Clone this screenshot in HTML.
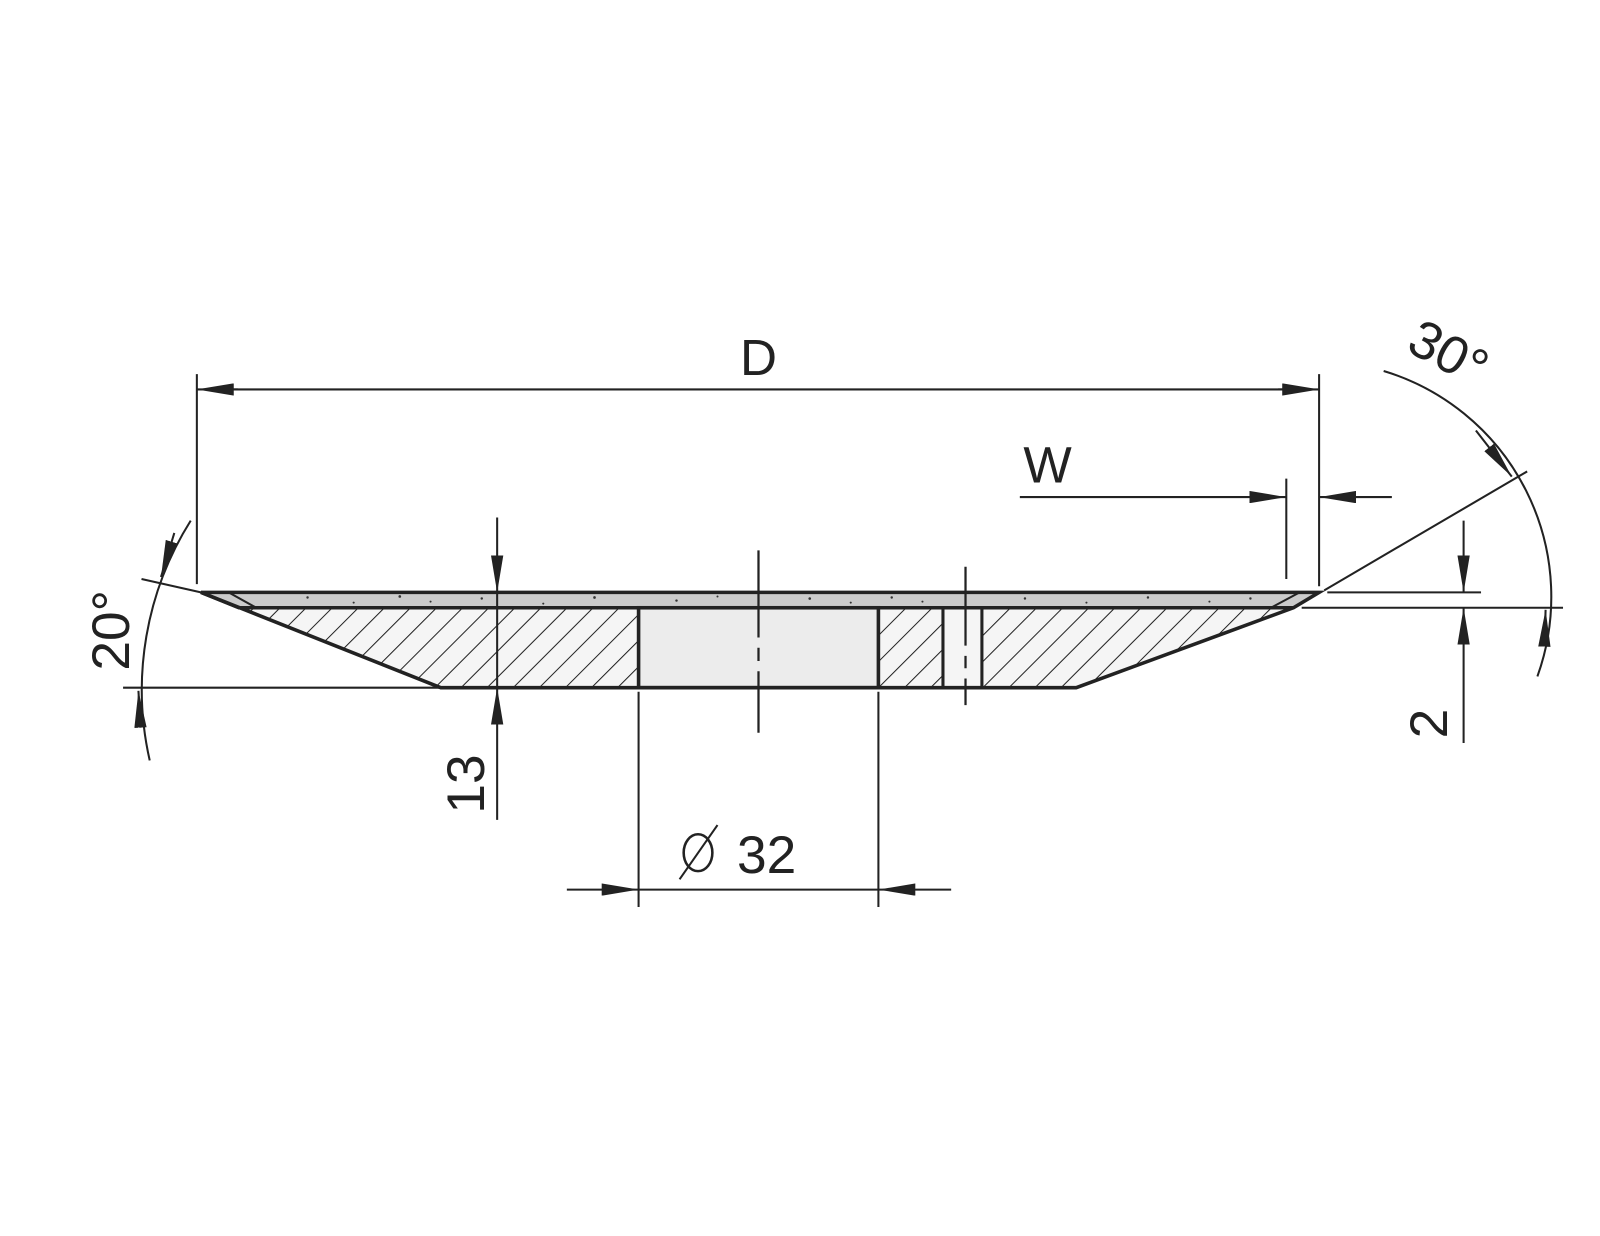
<!DOCTYPE html>
<html><head><meta charset="utf-8"><style>
html,body{margin:0;padding:0;background:#fff;}
svg{display:block;}
text{font-family:"Liberation Sans",sans-serif;fill:#222;}
</style></head><body>
<svg width="1600" height="1236" viewBox="0 0 1561 1206" xmlns="http://www.w3.org/2000/svg">
<defs>
<pattern id="h" patternUnits="userSpaceOnUse" width="18" height="18" patternTransform="rotate(45)">
<rect width="18" height="18" fill="#f5f5f5"/>
<line x1="0" y1="0" x2="0" y2="18" stroke="#222" stroke-width="2"/>
</pattern>
<marker id="a" viewBox="0 0 36 12" refX="36" refY="6" markerWidth="36" markerHeight="12" markerUnits="userSpaceOnUse" orient="auto">
<path d="M0,0 L36,6 L0,12 Z" fill="#222"/>
</marker>
</defs>
<g stroke="#222" fill="none">
<path d="M233,593 L623,593 L623,671 L430,671 Z" fill="url(#h)" stroke="none"/>
<path d="M857,593 L1258,593 L1050,671 L857,671 Z" fill="url(#h)" stroke="none"/>
<rect x="920" y="593" width="38" height="78" fill="#f5f5f5" stroke="none"/>
<line x1="920" y1="593" x2="920" y2="671" stroke-width="3"/>
<line x1="958" y1="593" x2="958" y2="671" stroke-width="3"/>
<path d="M196,578 L1287,578 L1262,593 L233,593 Z" fill="#cbcbcb" stroke="#222" stroke-width="3.5"/>
<line x1="196" y1="578" x2="233" y2="593" stroke-width="3"/>
<line x1="223" y1="578" x2="250" y2="593" stroke-width="2"/>
<line x1="1268" y1="578" x2="1240" y2="593" stroke-width="2"/>
<rect x="623" y="593" width="234" height="78" fill="#ececec" stroke="#222" stroke-width="3.5"/>
<path d="M196,578 L430,671 L1050,671 L1262,593" stroke-width="3.5"/>
<path d="M740,537 L740,622 M740,632 L740,645 M740,655 L740,715" stroke-width="2.2"/>
<path d="M942,553 L942,630 M942,640 L942,652 M942,662 L942,688" stroke-width="2.2"/>
<line x1="192" y1="365" x2="192" y2="570" stroke-width="2"/>
<line x1="1287" y1="365" x2="1287" y2="572" stroke-width="2"/>
<line x1="232" y1="380" x2="192" y2="380" stroke-width="2" marker-end="url(#a)"/>
<line x1="1247" y1="380" x2="1287" y2="380" stroke-width="2" marker-end="url(#a)"/>
<line x1="225" y1="380" x2="1255" y2="380" stroke-width="2"/>
<line x1="1255" y1="467" x2="1255" y2="565" stroke-width="2"/>
<line x1="995" y1="485" x2="1255" y2="485" stroke-width="2" marker-end="url(#a)"/>
<line x1="1358" y1="485" x2="1287" y2="485" stroke-width="2" marker-end="url(#a)"/>
<line x1="485" y1="505" x2="485" y2="578" stroke-width="2" marker-end="url(#a)"/>
<line x1="485" y1="800" x2="485" y2="671" stroke-width="2" marker-end="url(#a)"/>
<line x1="485" y1="578" x2="485" y2="671" stroke-width="2"/>
<line x1="1295" y1="578" x2="1445" y2="578" stroke-width="2"/>
<line x1="1270" y1="593" x2="1525" y2="593" stroke-width="2"/>
<line x1="1428" y1="508" x2="1428" y2="578" stroke-width="2" marker-end="url(#a)"/>
<line x1="1428" y1="725" x2="1428" y2="593" stroke-width="2" marker-end="url(#a)"/>
<line x1="623" y1="675" x2="623" y2="885" stroke-width="2"/>
<line x1="857" y1="675" x2="857" y2="885" stroke-width="2"/>
<line x1="553" y1="868" x2="623" y2="868" stroke-width="2" marker-end="url(#a)"/>
<line x1="928" y1="868" x2="857" y2="868" stroke-width="2" marker-end="url(#a)"/>
<line x1="623" y1="868" x2="857" y2="868" stroke-width="2"/>
<line x1="663" y1="858" x2="700" y2="805" stroke-width="2"/>
<ellipse cx="681" cy="832" rx="14" ry="18" stroke-width="2.5"/>
<line x1="120" y1="671" x2="430" y2="671" stroke-width="2"/>
<line x1="138" y1="565" x2="196" y2="578" stroke-width="2"/>
<path d="M186,508 A310,310 0 0 0 146,742" stroke-width="2"/>
<path d="M170,520 L157,563" stroke-width="2" marker-end="url(#a)"/>
<path d="M137,710 L135,674" stroke-width="2" marker-end="url(#a)"/>
<line x1="1292" y1="576" x2="1490" y2="460" stroke-width="2"/>
<path d="M1350,362 A230,230 0 0 1 1500,660" stroke-width="2"/>
<path d="M1440,420 L1475,465" stroke-width="2" marker-end="url(#a)"/>
<path d="M1507,625 L1508,595" stroke-width="2" marker-end="url(#a)"/>
</g>
<g fill="#333">
<circle cx="300" cy="583" r="1.2"/><circle cx="345" cy="588" r="1"/><circle cx="390" cy="582" r="1.3"/><circle cx="420" cy="587" r="1"/><circle cx="470" cy="584" r="1.2"/><circle cx="530" cy="589" r="1"/><circle cx="580" cy="583" r="1.3"/><circle cx="660" cy="586" r="1.2"/><circle cx="700" cy="582" r="1"/><circle cx="790" cy="584" r="1.3"/><circle cx="830" cy="588" r="1"/><circle cx="870" cy="583" r="1.2"/><circle cx="900" cy="587" r="1"/><circle cx="1000" cy="584" r="1.2"/><circle cx="1060" cy="588" r="1"/><circle cx="1120" cy="583" r="1.2"/><circle cx="1180" cy="587" r="1"/><circle cx="1220" cy="584" r="1.2"/>
</g>
<text x="740" y="366" font-size="50" text-anchor="middle">D</text>
<text x="1022" y="471" font-size="50" text-anchor="middle">W</text>
<text x="748" y="852" font-size="52" text-anchor="middle">32</text>
<text transform="translate(472,765) rotate(-90)" font-size="52" text-anchor="middle">13</text>
<text transform="translate(1412,706) rotate(-90)" font-size="52" text-anchor="middle">2</text>
<text transform="translate(126,615) rotate(-90)" font-size="52" text-anchor="middle">20°</text>
<text transform="translate(1405,360) rotate(28)" font-size="52" text-anchor="middle">30°</text>
</svg>
</body></html>
